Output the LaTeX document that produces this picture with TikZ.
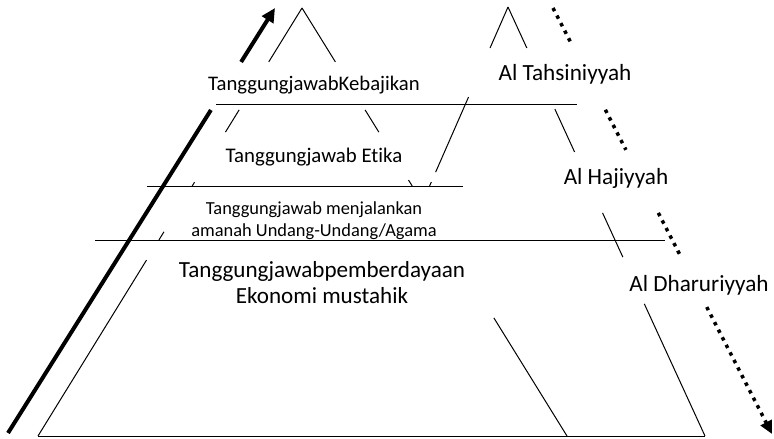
\documentclass[tikz,border=0pt]{standalone}
\usepackage{fontspec}
\setmainfont{Carlito}[Ligatures=NoCommon]
\usetikzlibrary{calc,arrows.meta}

\begin{document}
\begin{tikzpicture}[x=1pt, y=-1pt,
    wall/.style={line width=1pt},
    lbl/.style={anchor=base, inner sep=0pt, align=center},
    climb/.style={line width=4pt},
    fall/.style={line width=3.5pt, dash pattern=on 3.5pt off 5pt}]
  \useasboundingbox (0, 0) rectangle (774, 439);

  % corners of the two pyramids
  \coordinate (la) at (302, 8);
  \coordinate (lb) at (38, 436);
  \coordinate (lc) at (567, 436);
  \coordinate (ra) at (508, 7);
  \coordinate (rb) at (320, 436);
  \coordinate (rc) at (705, 436);

  % 1. pyramid sides, only the bits that no text covers
  \foreach \s/\e in {0/0.126, 0.238/0.290, 0.407/0.418, 0.523/0.542, 0.589/1}
    \draw[wall] ($(la)!\s!(lb)$) -- ($(la)!\e!(lb)$);
  \foreach \s/\e in {0/0.126, 0.238/0.290, 0.402/0.416, 0.724/1}
    \draw[wall] ($(la)!\s!(lc)$) -- ($(la)!\e!(lc)$);
  \foreach \s/\e in {0/0.0956, 0.21/0.385, 0.408/0.417}
    \draw[wall] ($(ra)!\s!(rb)$) -- ($(ra)!\e!(rb)$);
  \foreach \s/\e in {0/0.0956, 0.238/0.338, 0.480/0.583, 0.692/1}
    \draw[wall] ($(ra)!\s!(rc)$) -- ($(ra)!\e!(rc)$);

  % 2. level lines
  \foreach \y/\a/\b in {104/216/577, 186/147/463, 240/95/665, 436/38/705}
    \draw[wall] (\a, \y) -- (\b, \y);

  % 3. texts
  \node[lbl, font=\fontsize{20.7}{24}\selectfont] (kebajikan) at (314, 90)
    {TanggungjawabKebajikan};
  \node[lbl, font=\fontsize{20.8}{24}\selectfont] (etika) at (314, 162)
    {Tanggungjawab Etika};
  \node[lbl, font=\fontsize{18.4}{22}\selectfont] (amanah) at (314, 236)
    {Tanggungjawab menjalankan\\amanah Undang-Undang/Agama};
  \node[lbl, font=\fontsize{23.1}{26}\selectfont] (ekonomi) at (322, 303)
    {Tanggungjawabpemberdayaan\\Ekonomi mustahik};
  \node[lbl, font=\fontsize{23.2}{26}\selectfont] (tahsini) at (565, 80)
    {Al Tahsiniyyah};
  \node[lbl, font=\fontsize{23.2}{26}\selectfont] (hajiy) at (616, 184)
    {Al Hajiyyah};
  \node[lbl, font=\fontsize{23.2}{26}\selectfont] (dharuri) at (699, 291)
    {Al Dharuriyyah};

  % 4. arrows
  \coordinate (up0) at (8, 433);
  \coordinate (up1) at (275, 8);
  \draw[climb] (up0) -- ($(up0)!0.76!(up1)$);
  \draw[climb, -{Triangle[length=14pt, width=13pt]}] ($(up0)!0.873!(up1)$) -- (up1);

  \coordinate (dn0) at (553, 8);
  \coordinate (dn1) at (772, 434);
  \foreach \s/\e in {0/0.087, 0.239/0.333, 0.481/0.587}
    \draw[fall] ($(dn0)!\s!(dn1)$) -- ($(dn0)!\e!(dn1)$);
  \draw[fall, -{Triangle[length=13pt, width=12pt]}] ($(dn0)!0.702!(dn1)$) -- (dn1);
\end{tikzpicture}
\end{document}
